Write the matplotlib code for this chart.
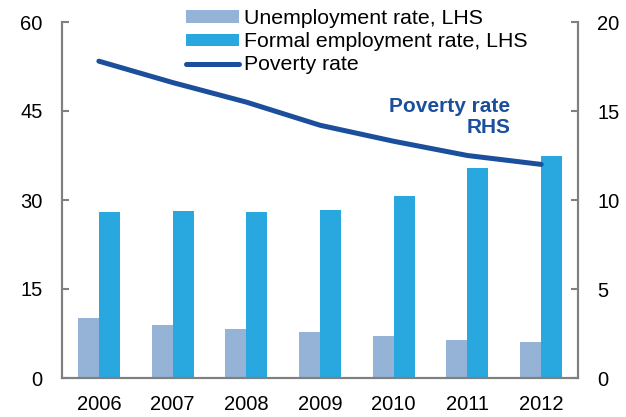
import numpy as np
import matplotlib
matplotlib.use("Agg")
import matplotlib.pyplot as plt

plt.rcParams['font.family'] = ['Liberation Sans', 'DejaVu Sans']

years = ["2006", "2007", "2008", "2009", "2010", "2011", "2012"]
unemployment = [10.1, 8.9, 8.3, 7.7, 7.0, 6.4, 6.0]
formal = [27.9, 28.2, 27.9, 28.3, 30.7, 35.4, 37.5]
poverty = [17.8, 16.6, 15.5, 14.2, 13.3, 12.5, 12.0]

c_unemp = "#95B3D7"
c_formal = "#29A8E0"
c_line = "#1B4F9C"
c_axis = "#808080"

fig = plt.figure(figsize=(6.26, 4.17), dpi=100)
ax = fig.add_axes([62/626, 1 - 378/417, 516/626, 356/417])
ax2 = ax.twinx()

x = np.arange(len(years))
w = 0.285
ax.bar(x - w/2, unemployment, w, color=c_unemp, label="Unemployment rate, LHS")
ax.bar(x + w/2, formal, w, color=c_formal, label="Formal employment rate, LHS")
ax2.plot(x, poverty, color=c_line, lw=3.6, solid_capstyle='round', label="Poverty rate")

ax.set_xlim(-0.5, len(years) - 0.5)
ax.set_ylim(0, 60)
ax2.set_ylim(0, 20)
ax.set_yticks([0, 15, 30, 45, 60])
ax2.set_yticks([0, 5, 10, 15, 20])
ax.set_xticks(x)
ax.set_xticklabels(years)

for a in (ax, ax2):
    for s in a.spines.values():
        s.set_color(c_axis)
        s.set_linewidth(1.5)
    a.spines['top'].set_visible(False)
ax.tick_params(axis='y', direction='in', length=5, width=1.5, color=c_axis,
               labelsize=14.5, pad=14)
ax2.tick_params(axis='y', direction='in', length=5, width=1.5, color=c_axis,
                labelsize=14.5, pad=14)
ax.tick_params(axis='x', length=0, labelsize=14.5, pad=12)

ax2.text(5.58, 14.65, "Poverty rate\nRHS", color=c_line, fontsize=15,
         fontweight='bold', ha='right', va='center', linespacing=1.1)

h1, l1 = ax.get_legend_handles_labels()
h2, l2 = ax2.get_legend_handles_labels()
leg = fig.legend(h1 + h2, l1 + l2, loc='upper left', bbox_to_anchor=(186/626, 1 - 9/417),
                 frameon=False, fontsize=15.3, handlelength=2.5, handleheight=0.52,
                 handletextpad=0.25, labelspacing=0.2, borderaxespad=0,
                 borderpad=0)

fig.savefig("out.png", dpi=100)
